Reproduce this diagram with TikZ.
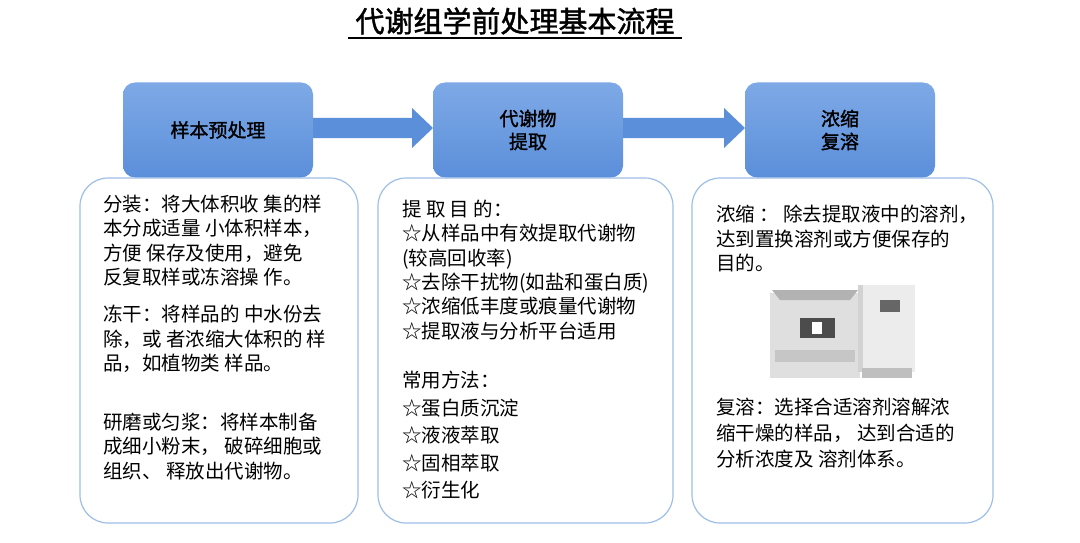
\documentclass[tikz,border=0pt]{standalone}
\usepackage{fontspec}
\setmainfont{Noto Sans CJK SC}
\newfontfamily\cjkb[FakeBold=1.5]{Noto Sans CJK SC}
\definecolor{hdr}{HTML}{5B8FDA}
\definecolor{hdrl}{HTML}{7EA9E6}
\definecolor{brd}{HTML}{9DBEE6}
\begin{document}
\begin{tikzpicture}[x=1pt,y=-1pt,
 hd/.style={draw=none,rounded corners=12pt,top color=hdrl,bottom color=hdr,minimum width=190pt,minimum height=95pt,align=center,font=\cjkb\fontsize{19}{23}\selectfont},
 bx/.style={draw=brd,line width=1.2pt,rounded corners=28pt,fill=white},
 tx/.style={anchor=north west,align=left,inner sep=0,font=\fontsize{19.5}{24.3}\selectfont},
 ar/.style={fill=hdr,draw=none}]
\useasboundingbox (0,0) rectangle (1080,543);
\fill[white] (0,0) rectangle (1080,543);
\node[font=\cjkb\fontsize{29}{32}\selectfont] (title) at (515,21) {代谢组学前处理基本流程};
\draw[line width=1.5pt] (348,38) -- (682,38);
\node[hd] (h1) at (218,130) {样本预处理};
\node[hd] (h2) at (528,130) {代谢物\\提取};
\node[hd] (h3) at (840,130) {浓缩\\复溶};
\fill[ar] (h1.east|-0,118) -- (412,118) -- (412,108) -- (433,128) -- (412,148) -- (412,138) -- (h1.east|-0,138) -- cycle;
\fill[ar] (h2.east|-0,118) -- (724,118) -- (724,108) -- (745,128) -- (724,148) -- (724,138) -- (h2.east|-0,138) -- cycle;
\draw[bx] (80,178) rectangle (358,523);
\draw[bx] (378,178) rectangle (673,523);
\draw[bx] (692,178) rectangle (993,523);
\node[tx] (t1) at (103,195) {分装：将大体积收 集的样\\本分成适量 小体积样本，\\方便 保存及使用，避免\\反复取样或冻溶操 作。};
\node[tx] (t2) at (103,305) {冻干：将样品的 中水份去\\除，或 者浓缩大体积的 样\\品，如植物类 样品。};
\node[tx] (t3) at (103,413) {研磨或匀浆：将样本制备\\成细小粉末，  破碎细胞或\\组织、  释放出代谢物。};
\node[tx] (t4) at (402,200) {提 取 目 的：\\☆从样品中有效提取代谢物\\(较高回收率)\\☆去除干扰物(如盐和蛋白质)\\☆浓缩低丰度或痕量代谢物\\☆提取液与分析平台适用};
\node[tx,font=\fontsize{19.5}{27.5}\selectfont] (t5) at (402,371) {常用方法：\\☆蛋白质沉淀\\☆液液萃取\\☆固相萃取\\ ☆衍生化};
\node[tx] (t6) at (716,205) {浓缩 ： 除去提取液中的溶剂，\\达到置换溶剂或方便保存的\\目的。};
\node[tx,font=\fontsize{19.5}{26}\selectfont] (t7) at (716,398) {复溶：选择合适溶剂溶解浓\\缩干燥的样品， 达到合适的\\分析浓度及 溶剂体系。};
% devices
\fill[gray!25] (770,293) rectangle (860,378);
\fill[gray!60] (772,290) -- (858,290) -- (850,300) -- (780,300) -- cycle;
\fill[black!70] (800,318) rectangle (835,338);
\fill[white] (812,322) rectangle (822,334);
\fill[gray!45] (775,350) rectangle (855,362);
\fill[gray!15] (858,285) rectangle (915,372);
\fill[gray!35] (858,285) rectangle (863,372);
\fill[black!60] (880,300) rectangle (900,312);
\fill[gray!50] (862,368) rectangle (912,378);
\end{tikzpicture}
\end{document}
